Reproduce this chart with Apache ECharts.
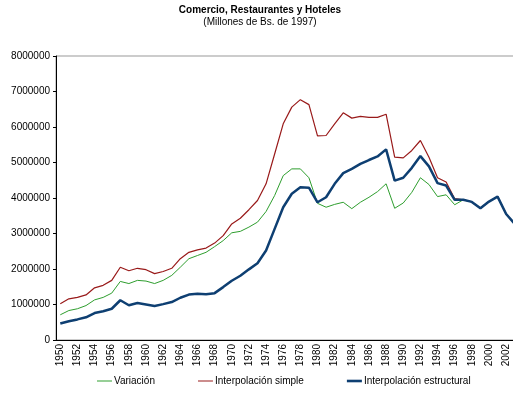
<!DOCTYPE html>
<html>
<head>
<meta charset="utf-8">
<script src="https://cdn.jsdelivr.net/npm/echarts@6/dist/echarts.min.js"></script>
<style>
  html, body { margin: 0; padding: 0; background: #fff; overflow: hidden; }
  #main { width: 520px; height: 404px; }
</style>
</head>
<body>
<div id="main"></div>
<script>
// años 1950-2003
const years = ['1950', '1951', '1952', '1953', '1954', '1955', '1956', '1957', '1958', '1959',
  '1960', '1961', '1962', '1963', '1964', '1965', '1966', '1967', '1968', '1969',
  '1970', '1971', '1972', '1973', '1974', '1975', '1976', '1977', '1978', '1979',
  '1980', '1981', '1982', '1983', '1984', '1985', '1986', '1987', '1988', '1989',
  '1990', '1991', '1992', '1993', '1994', '1995', '1996', '1997', '1998', '1999',
  '2000', '2001', '2002', '2003']

const variacion = [710000, 830000, 880000, 970000, 1130000, 1200000, 1320000, 1650000, 1590000, 1680000,
  1660000, 1590000, 1680000, 1820000, 2050000, 2290000, 2380000, 2470000, 2630000, 2800000,
  3020000, 3060000, 3180000, 3320000, 3620000, 4070000, 4630000, 4820000, 4820000, 4570000,
  3850000, 3740000, 3820000, 3880000, 3700000, 3880000, 4020000, 4180000, 4400000, 3710000,
  3860000, 4160000, 4570000, 4380000, 4040000, 4090000, 3810000, 3950000, 3890000, 3710000,
  3900000, 4040000, 3550000, 3270000]

const interpSimple = [1020000, 1160000, 1200000, 1270000, 1470000, 1540000, 1680000, 2050000, 1950000, 2020000,
  1980000, 1870000, 1930000, 2020000, 2290000, 2470000, 2540000, 2590000, 2730000, 2940000,
  3270000, 3430000, 3670000, 3930000, 4400000, 5240000, 6090000, 6560000, 6770000, 6630000,
  5750000, 5760000, 6090000, 6400000, 6250000, 6300000, 6270000, 6270000, 6360000, 5150000,
  5130000, 5340000, 5620000, 5150000, 4570000, 4450000, 3980000, 3950000, 3890000, 3710000,
  3900000, 4040000, 3550000, 3270000]

const interpEstructural = [465000, 530000, 580000, 640000, 760000, 810000, 880000, 1120000, 980000, 1040000,
  1000000, 960000, 1010000, 1070000, 1190000, 1280000, 1300000, 1290000, 1320000, 1490000,
  1670000, 1810000, 1990000, 2160000, 2520000, 3130000, 3740000, 4120000, 4300000, 4290000,
  3880000, 4020000, 4400000, 4700000, 4820000, 4960000, 5070000, 5170000, 5370000, 4490000,
  4570000, 4850000, 5180000, 4890000, 4420000, 4350000, 3950000, 3950000, 3890000, 3710000,
  3900000, 4040000, 3550000, 3270000]

const yTicks = [0, 1000000, 2000000, 3000000, 4000000, 5000000, 6000000, 7000000, 8000000]

const font = 'Liberation Sans, Arial, sans-serif'
// iconos de leyenda: solo la línea, sin marcador
const thinIcon = 'path://M0,0h15v1h-15z'
const thickIcon = 'path://M0,0h15v2.6h-15z'

const chart = echarts.init(document.getElementById('main'))

const option = {
  animation: false,
  backgroundColor: '#fff',
  textStyle: { fontFamily: font },
  title: {
    text: 'Comercio, Restaurantes y Hoteles',
    subtext: '(Millones de Bs. de 1997)',
    left: 'center',
    top: 0,
    itemGap: 2,
    textStyle: { fontSize: 10, fontWeight: 'bold', color: '#000', fontFamily: font },
    subtextStyle: { fontSize: 10, color: '#000', fontFamily: font }
  },
  legend: {
    left: 92,
    top: 371,
    itemWidth: 15,
    itemHeight: 4,
    itemGap: 43,
    textStyle: { fontSize: 10, color: '#000', fontFamily: font, padding: [0, 0, 0, -3] },
    data: [
      { name: 'Variación', icon: thinIcon },
      { name: 'Interpolación simple', icon: thinIcon },
      { name: 'Interpolación estructural', icon: thickIcon }
    ]
  },
  grid: {
    left: 56,
    top: 56,
    right: 1,
    bottom: 64,
    show: true,
    borderColor: '#999',
    borderWidth: 1
  },
  xAxis: {
    type: 'category',
    data: years,
    boundaryGap: true,
    axisLine: { lineStyle: { color: '#000', width: 1 } },
    axisTick: { interval: 0, length: 4, lineStyle: { color: '#000' } },
    axisLabel: { interval: 1, rotate: 90, fontSize: 10, color: '#000', margin: 4, fontFamily: font }
  },
  yAxis: {
    type: 'value',
    min: yTicks[0],
    max: yTicks[yTicks.length - 1],
    interval: yTicks[1] - yTicks[0],
    axisLine: { show: true, lineStyle: { color: '#000', width: 1 } },
    axisTick: { show: true, length: 3, lineStyle: { color: '#000' } },
    splitLine: { show: false },
    axisLabel: { fontSize: 10, color: '#000', margin: 6, fontFamily: font, formatter: (v) => String(v) }
  },
  series: [
    {
      name: 'Variación',
      type: 'line',
      data: variacion,
      symbol: 'none',
      color: '#2e9e2e',
      lineStyle: { width: 1, color: '#2e9e2e' }
    },
    {
      name: 'Interpolación simple',
      type: 'line',
      data: interpSimple,
      symbol: 'none',
      color: '#991a1a',
      lineStyle: { width: 1.2, color: '#991a1a' }
    },
    {
      name: 'Interpolación estructural',
      type: 'line',
      data: interpEstructural,
      symbol: 'none',
      color: '#0e3f72',
      lineStyle: { width: 2.5, color: '#0e3f72' }
    }
  ]
}

chart.setOption(option)
</script>
</body>
</html>
